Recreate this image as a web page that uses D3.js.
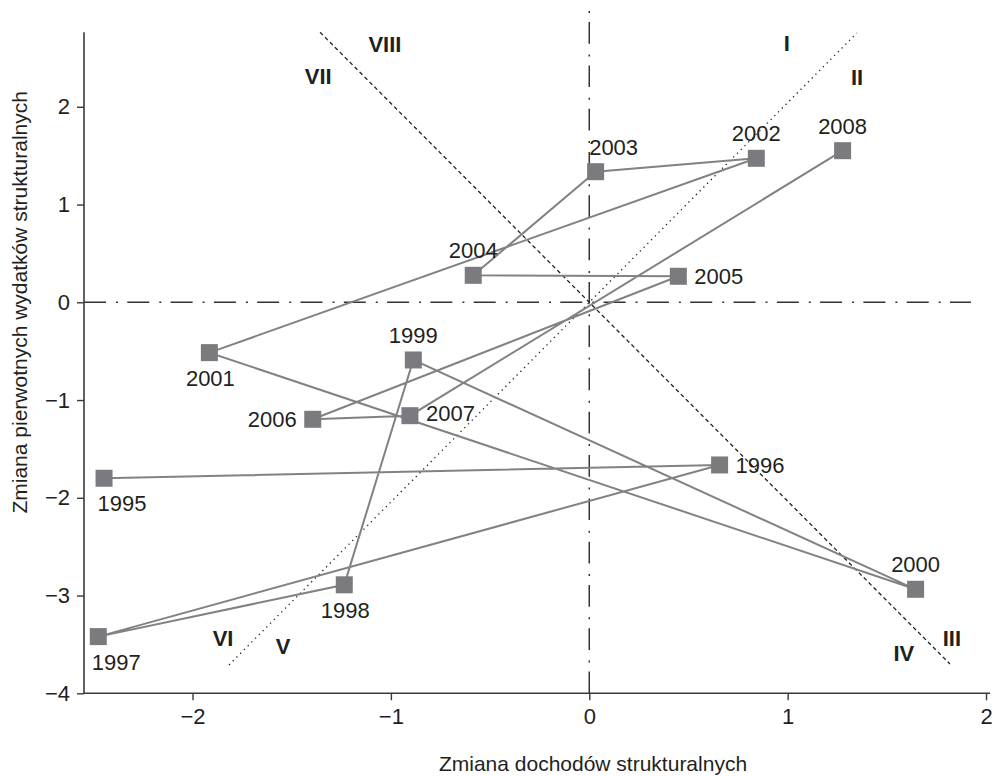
<!DOCTYPE html>
<html>
<head>
<meta charset="utf-8">
<script src="https://cdn.jsdelivr.net/npm/d3@7"></script>
<style>
  html, body { margin: 0; padding: 0; background: #fff; }
  svg { display: block; }
  text { font-family: "Liberation Sans", Arial, sans-serif; fill: #231f20; }
</style>
</head>
<body>
<svg id="chart" width="994" height="776"></svg>
<script>
// ---- data ----
const years = ["1995","1996","1997","1998","1999","2000","2001","2002","2003","2004","2005","2006","2007","2008"];
const revenueChange = [-2.446, 0.657, -2.475, -1.235, -0.887, 1.645, -1.915, 0.842, 0.032, -0.585, 0.449, -1.394, -0.904, 1.277];
const spendingChange = [-1.80, -1.664, -3.42, -2.89, -0.59, -2.936, -0.515, 1.473, 1.336, 0.276, 0.266, -1.197, -1.16, 1.551];
// label placement side for each year
const labelPos = ["below","right","below","below","above","above","below","above","aboveRight","above","right","left","right","above"];

const xTicks = [-2, -1, 0, 1, 2];
const yTicks = [-4, -3, -2, -1, 0, 1, 2];

// reference lines (data coordinates of endpoints)
const dottedLine = [[-1.816, -3.71], [1.349, 2.755]];
const dashedLine = [[-1.357, 2.762], [1.818, -3.70]];
const zeroH = [[-2.547, 0], [1.924, 0]];
const zeroV = [[0, -4], [0, 2.98]];

const regionLabels = ["I","II","III","IV","V","VI","VII","VIII"];
const regionX = [0.996, 1.35, 1.828, 1.586, -1.544, -1.846, -1.366, -1.03];
const regionY = [2.65, 2.305, -3.434, -3.587, -3.516, -3.434, 2.32, 2.64];

const xTitle = "Zmiana dochodów strukturalnych";
const yTitle = "Zmiana pierwotnych wydatków strukturalnych";

// ---- chart ----
const svg = d3.select("#chart");
const x = d3.scaleLinear().domain([-2.547, 2.02]).range([84, 990]);
const y = d3.scaleLinear().domain([-4, 2.762]).range([693.3, 32.3]);

const pts = years.map((yr, i) => ({yr, x: revenueChange[i], y: spendingChange[i], pos: labelPos[i]}));

const line = d3.line().x(d => x(d[0])).y(d => y(d[1]));

// zero lines (dash-dot)
svg.append("path").attr("d", line(zeroH))
  .attr("fill", "none").attr("stroke", "#333").attr("stroke-width", 1.5)
  .attr("stroke-dasharray", "22 10 2 9.3");
svg.append("path").attr("d", line(zeroV))
  .attr("fill", "none").attr("stroke", "#333").attr("stroke-width", 1.5)
  .attr("stroke-dasharray", "21.7 9 2 10.6");

// diagonal reference lines
svg.append("path").attr("d", line(dottedLine))
  .attr("fill", "none").attr("stroke", "#222").attr("stroke-width", 1.3)
  .attr("stroke-dasharray", "1.3 4");
svg.append("path").attr("d", line(dashedLine))
  .attr("fill", "none").attr("stroke", "#222").attr("stroke-width", 1.3)
  .attr("stroke-dasharray", "4 3");

// axes
const xAxis = svg.append("g").attr("transform", `translate(0,${y(-4)})`)
  .call(d3.axisBottom(x).tickValues(xTicks).tickSize(7).tickPadding(8)
    .tickFormat(d => d < 0 ? "\u2212" + Math.abs(d) : d));
const yAxis = svg.append("g").attr("transform", `translate(${x(-2.547)},0)`)
  .call(d3.axisLeft(y).tickValues(yTicks).tickSize(7).tickPadding(7)
    .tickFormat(d => d < 0 ? "\u2212" + Math.abs(d) : d));
[xAxis, yAxis].forEach(g => {
  g.select(".domain").attr("stroke", "#3a3a3a").attr("stroke-width", 1.6);
  g.selectAll(".tick line").attr("stroke", "#3a3a3a").attr("stroke-width", 1.4);
  g.selectAll(".tick text").attr("font-size", 22).attr("fill", "#231f20")
    .attr("font-family", "Liberation Sans, Arial, sans-serif");
});
yAxis.select(".domain").attr("d", `M0,${y(-4)}V${y(2.762)}`);
xAxis.select(".domain").attr("d", `M0,0H${x(2.02) - x(-2.547)}`).attr("transform", `translate(${x(-2.547)},0)`);

// connecting line
svg.append("path")
  .attr("d", d3.line().x(d => x(d.x)).y(d => y(d.y))(pts))
  .attr("fill", "none").attr("stroke", "#828282").attr("stroke-width", 2);

// markers
const ms = 17;
svg.selectAll("rect.m").data(pts).join("rect").attr("class", "m")
  .attr("x", d => x(d.x) - ms / 2).attr("y", d => y(d.y) - ms / 2)
  .attr("width", ms).attr("height", ms)
  .attr("fill", "#7b7b7f");

// year labels
const fs = 22;
svg.selectAll("text.yr").data(pts).join("text").attr("class", "yr")
  .attr("font-size", fs)
  .each(function(d) {
    const t = d3.select(this);
    const cx = x(d.x), cy = y(d.y);
    let tx = cx, ty = cy, anchor = "middle";
    if (d.pos === "below") { tx = cx + (d.yr === "1998" || d.yr === "2001" ? 1 : 18); ty = cy + 33; }
    else if (d.pos === "above") { ty = cy - 17; }
    else if (d.pos === "aboveRight") { tx = cx + 18; ty = cy - 17; }
    else if (d.pos === "right") { tx = cx + 16; ty = cy + 8; anchor = "start"; }
    else if (d.pos === "left") { tx = cx - 16; ty = cy + 8; anchor = "end"; }
    if (d.yr === "2007") ty = cy + 5;
    t.attr("x", tx).attr("y", ty).attr("text-anchor", anchor).text(d.yr);
  });

// region labels (roman numerals)
svg.selectAll("text.rg").data(regionLabels).join("text").attr("class", "rg")
  .attr("x", (d, i) => x(regionX[i])).attr("y", (d, i) => y(regionY[i]) + 8)
  .attr("text-anchor", "middle").attr("font-size", 22).attr("font-weight", "bold")
  .text(d => d);

// axis titles
svg.append("text").attr("x", 593).attr("y", 771).attr("text-anchor", "middle")
  .attr("font-size", 21).text(xTitle);
svg.append("text").attr("transform", `translate(27,${y(0)}) rotate(-90)`)
  .attr("text-anchor", "middle").attr("font-size", 21).text(yTitle);
</script>
</body>
</html>
